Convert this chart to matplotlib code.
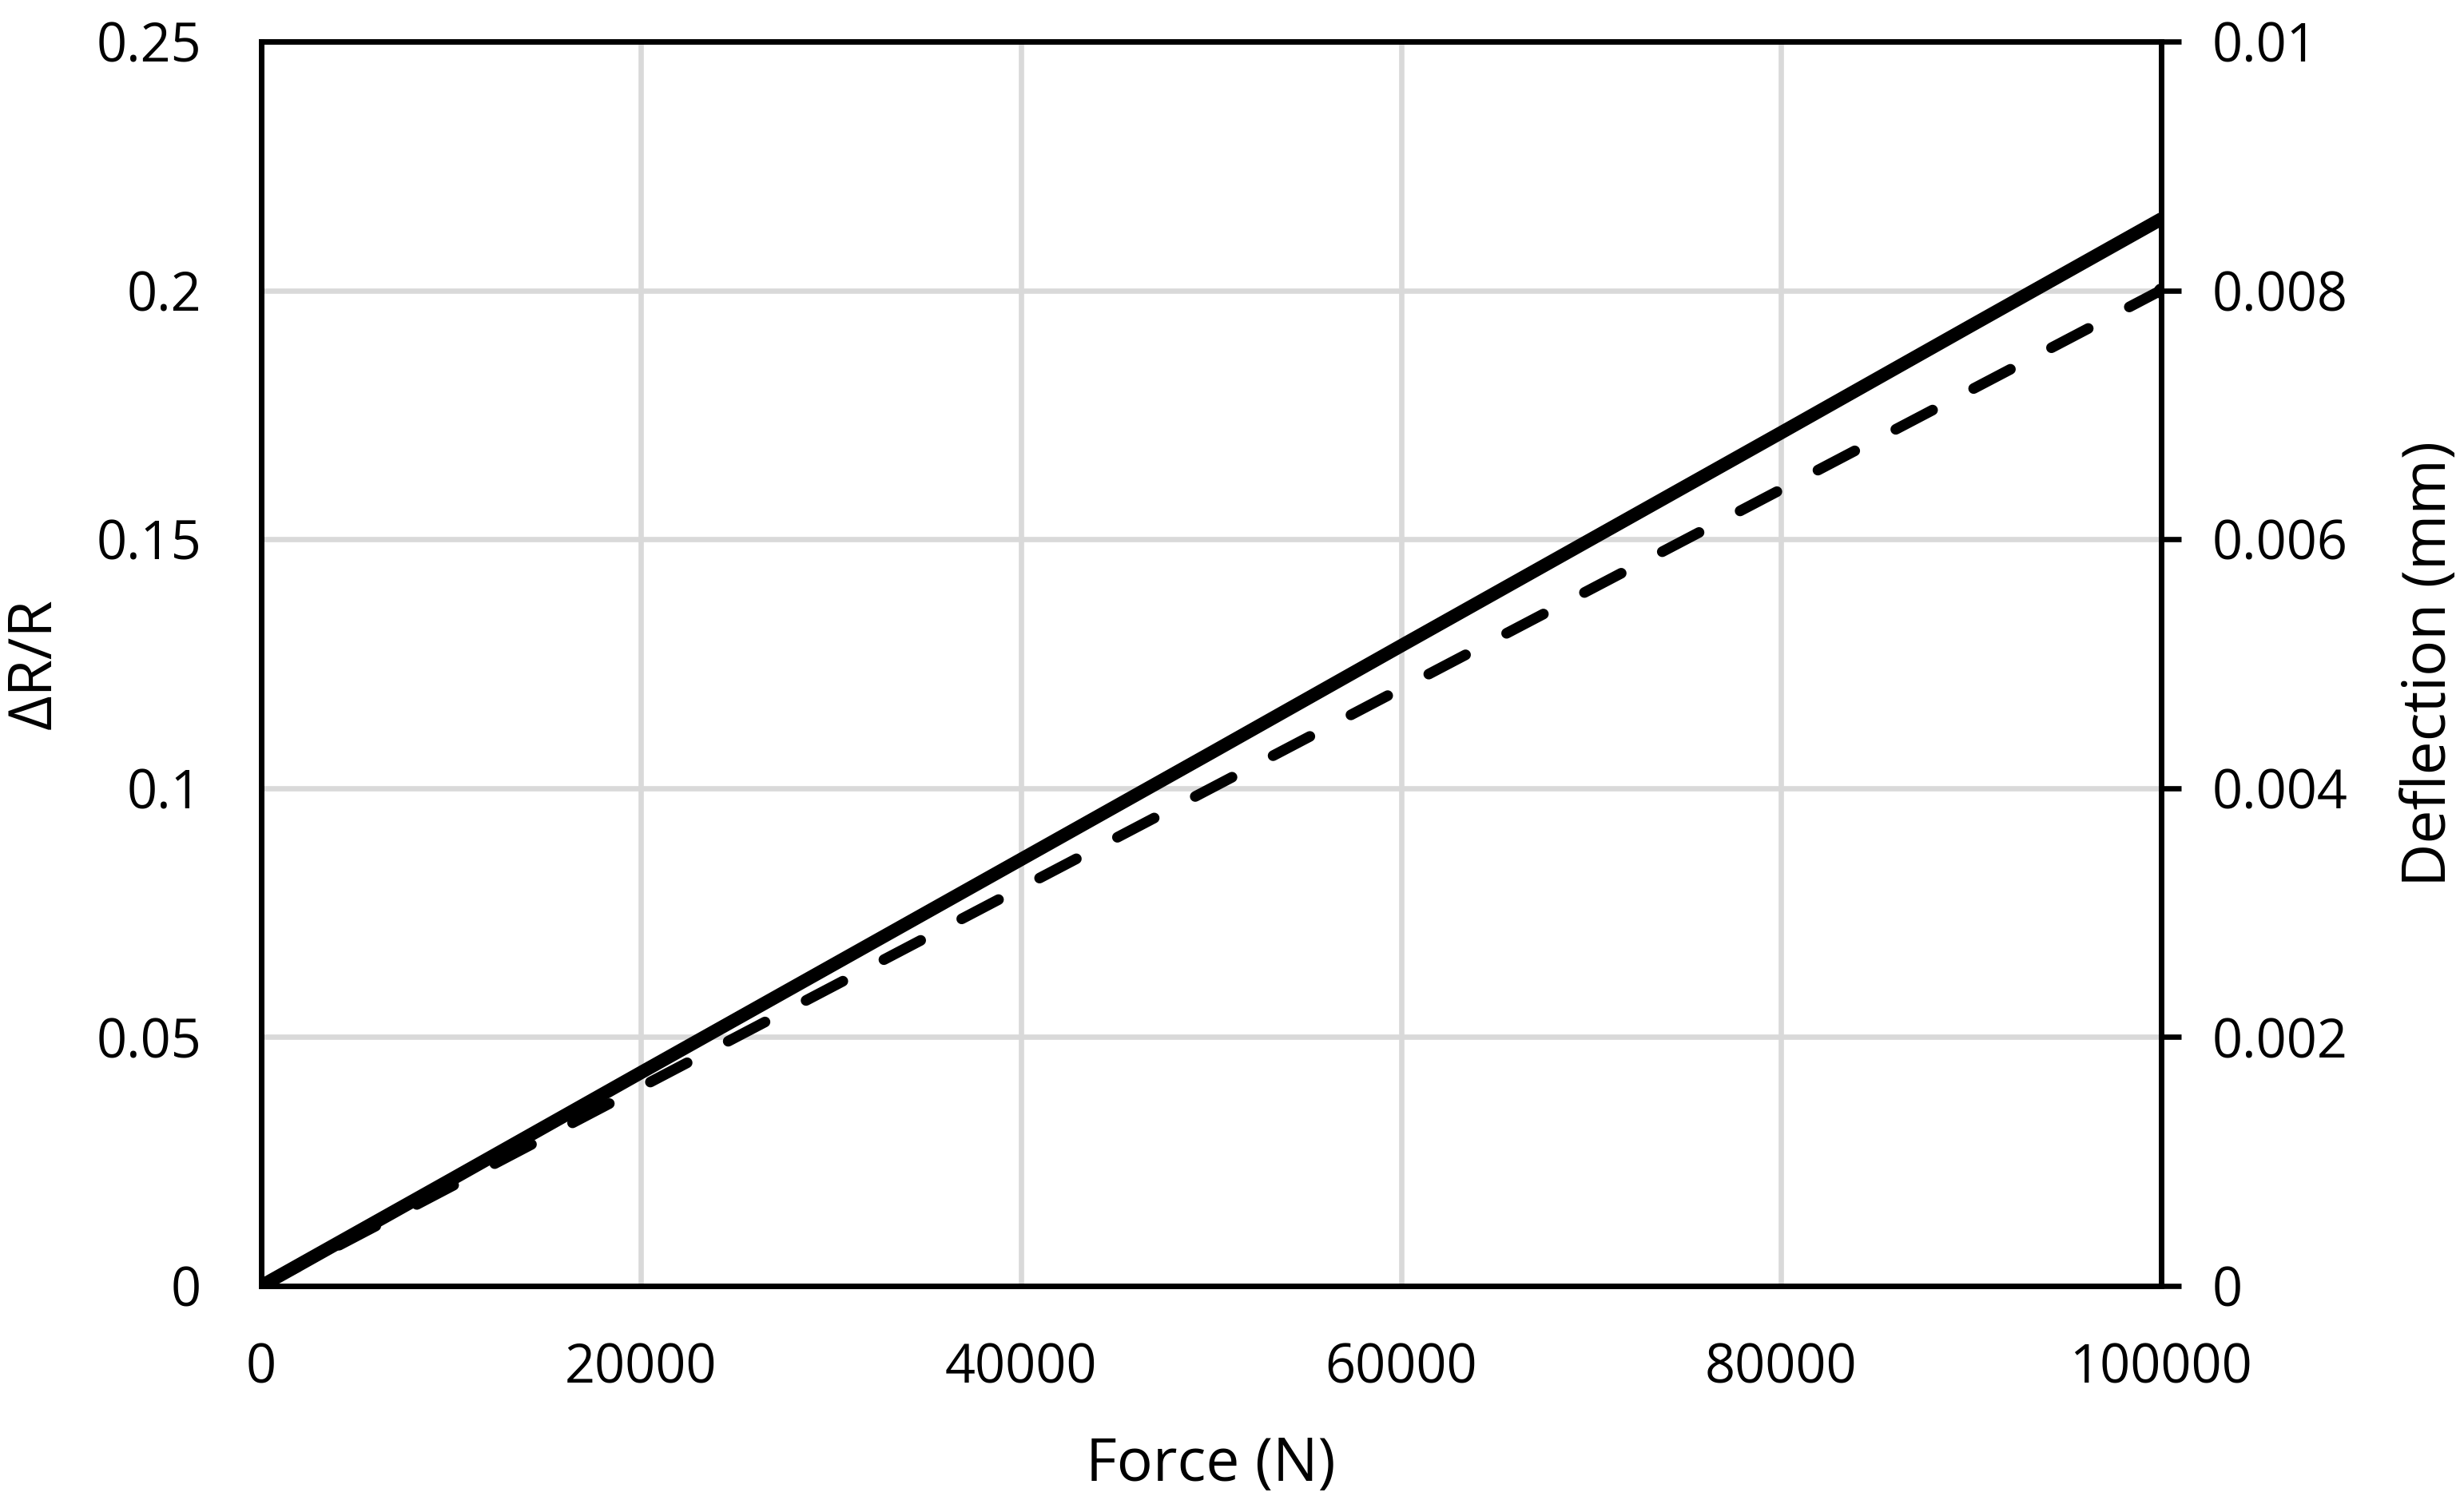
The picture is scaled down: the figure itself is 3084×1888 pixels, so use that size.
import numpy as np
import matplotlib.pyplot as plt
from matplotlib import rcParams

rcParams['font.family'] = ['Open Sans', 'DejaVu Sans']

# data
force = [0, 10000, 20000, 30000, 40000, 50000, 60000, 70000, 80000, 90000, 100000]  # N
dRR = [0, 0.0214, 0.0429, 0.0643, 0.0857, 0.1071, 0.1286, 0.15, 0.1714, 0.1929, 0.2143]
defl = [0, 0.0008, 0.0016, 0.0024, 0.0032, 0.004, 0.0048, 0.0056, 0.0064, 0.0072, 0.008]  # mm

xticks = [0, 20000, 40000, 60000, 80000, 100000]
lticks = [0, 0.05, 0.1, 0.15, 0.2, 0.25]
lticklabels = ['0', '0.05', '0.1', '0.15', '0.2', '0.25']
rticks = [0, 0.002, 0.004, 0.006, 0.008, 0.01]
rticklabels = ['0', '0.002', '0.004', '0.006', '0.008', '0.01']

grid_c = '#d9d9d9'

fig, ax1 = plt.subplots(figsize=(15.42, 9.44), dpi=200)
fig.subplots_adjust(left=0.106, right=0.877, top=0.9725, bottom=0.1472)
ax2 = ax1.twinx()

# grid on the primary axis
ax1.set_axisbelow(True)
ax1.grid(True, color=grid_c, lw=2.4)

ax1.plot(force, dRR, color='black', lw=6.0, solid_capstyle='round', zorder=3)
ax2.plot(force, defl, color='black', lw=4.8, ls=(0, (3.9, 4.35)),
         dash_capstyle='round', marker='o', markevery=[-1], ms=6, zorder=3)

ax1.set_xlim(0, 100000)
ax1.set_ylim(0, 0.25)
ax2.set_ylim(0, 0.01)

ax1.set_xticks(xticks)
ax1.set_xticklabels([str(v) for v in xticks])
ax1.set_yticks(lticks)
ax1.set_yticklabels(lticklabels)
ax2.set_yticks(rticks)
ax2.set_yticklabels(rticklabels)

ax1.tick_params(axis='x', length=0, pad=25, labelsize=24)
ax1.tick_params(axis='y', length=0, pad=27, labelsize=24)
ax2.tick_params(axis='y', length=9, width=2.4, pad=14, labelsize=24, direction='out')

for ax in (ax1, ax2):
    for s in ax.spines.values():
        s.set_linewidth(2.4)
        s.set_color('black')

ax1.set_xlabel('Force (N)', fontsize=27)
ax1.set_ylabel('ΔR/R', fontsize=27)
ax2.set_ylabel('Deflection (mm)', fontsize=27, rotation=90)
ax1.xaxis.set_label_coords(0.5, -0.12)
ax1.yaxis.set_label_coords(-0.103, 0.5)
ax2.yaxis.set_label_coords(1.126, 0.5)

fig.savefig('out.png', dpi=200)
